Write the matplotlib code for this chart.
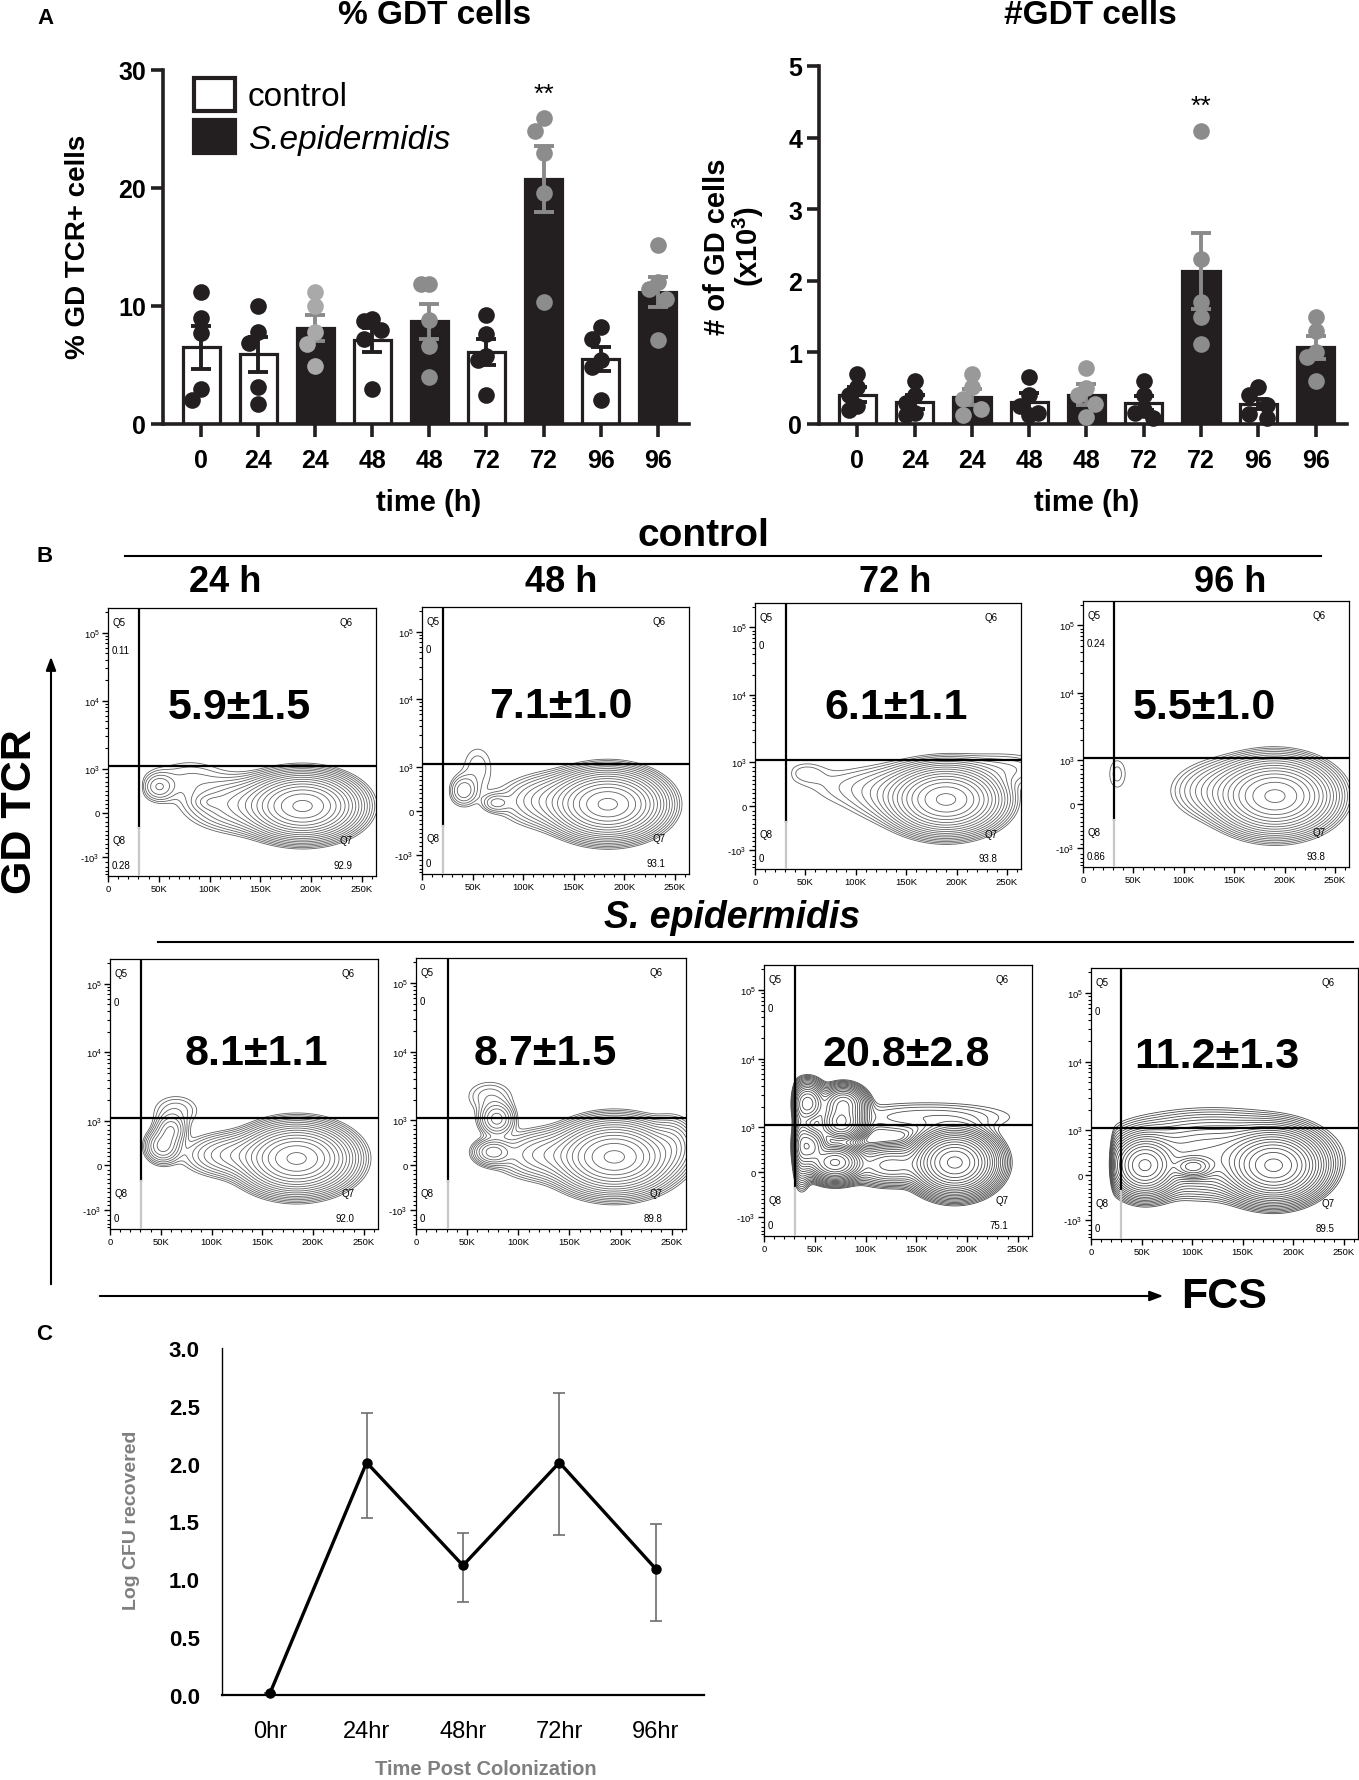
import numpy as np
import matplotlib
matplotlib.use("Agg")
import matplotlib.pyplot as plt
from matplotlib.patches import FancyArrowPatch, Rectangle
from matplotlib.lines import Line2D

plt.rcParams['font.family'] = ['Liberation Sans', 'DejaVu Sans']
plt.rcParams['mathtext.fontset'] = 'custom'
plt.rcParams['mathtext.rm'] = 'Liberation Sans'
plt.rcParams['mathtext.bf'] = 'Liberation Sans:bold'
plt.rcParams['mathtext.it'] = 'Liberation Sans:italic'

# ------------------------------------------------------------------ DATA
bar_labels = ["0", "24", "24", "48", "48", "72", "72", "96", "96"]
bar_group = ["control", "control", "sepi", "control", "sepi", "control", "sepi", "control", "sepi"]

pct_mean = [6.5, 5.9, 8.1, 7.1, 8.7, 6.1, 20.8, 5.5, 11.2]
pct_sem = [1.8, 1.5, 1.1, 1.0, 1.5, 1.1, 2.8, 1.0, 1.3]
pct_points = [
    [11.2, 9.0, 7.7, 3.0, 2.0],
    [10.0, 7.8, 6.9, 3.1, 1.7],
    [11.2, 10.0, 7.8, 6.8, 4.9],
    [8.9, 8.7, 8.0, 7.2, 3.0],
    [11.9, 11.9, 8.8, 6.6, 4.0],
    [9.2, 7.6, 5.8, 5.4, 2.5],
    [25.9, 24.8, 23.0, 19.6, 10.3],
    [8.2, 7.2, 5.4, 4.8, 2.0],
    [15.2, 12.0, 11.4, 10.6, 7.1],
]
pct_point_colors = ["#231f20", "#231f20", "#a9a9a9", "#231f20", "#8c8c8c",
                    "#231f20", "#8c8c8c", "#231f20", "#8c8c8c"]

num_mean = [0.41, 0.31, 0.38, 0.31, 0.41, 0.29, 2.14, 0.28, 1.07]
num_sem = [0.10, 0.10, 0.11, 0.12, 0.15, 0.10, 0.53, 0.07, 0.16]
num_points = [
    [0.70, 0.51, 0.40, 0.25, 0.20],
    [0.60, 0.40, 0.30, 0.15, 0.12],
    [0.70, 0.51, 0.35, 0.21, 0.12],
    [0.65, 0.40, 0.25, 0.15, 0.12],
    [0.78, 0.50, 0.40, 0.28, 0.10],
    [0.60, 0.40, 0.20, 0.16, 0.09],
    [4.09, 2.30, 1.70, 1.49, 1.12],
    [0.51, 0.40, 0.26, 0.14, 0.09],
    [1.50, 1.30, 1.00, 0.93, 0.60],
]
num_point_colors = ["#231f20", "#231f20", "#999999", "#231f20", "#999999",
                    "#231f20", "#8c8c8c", "#231f20", "#8c8c8c"]

flow_times = ["24 h", "48 h", "72 h", "96 h"]
flow_ctrl_big = ["5.9\u00b11.5", "7.1\u00b11.0", "6.1\u00b11.1", "5.5\u00b11.0"]
flow_sepi_big = ["8.1\u00b11.1", "8.7\u00b11.5", "20.8\u00b12.8", "11.2\u00b11.3"]
flow_ctrl_q5 = ["0.11", "0", "0", "0.24"]
flow_ctrl_q8 = ["0.28", "0", "0", "0.86"]
flow_ctrl_q7 = ["92.9", "93.1", "93.8", "93.8"]
flow_sepi_q5 = ["0", "0", "0", "0"]
flow_sepi_q8 = ["0", "0", "0", "0"]
flow_sepi_q7 = ["92.0", "89.8", "75.1", "89.5"]
flow_ctrl_gate_x = [31, 21, 31, 31]      # FSC gate, K
flow_sepi_gate_x = [31, 31, 31, 30]
flow_ctrl_min_fsc = [32, 24, 33, 22]     # lowest FSC of recorded events, K
flow_sepi_min_fsc = [27, 45, 30, 21]
flow_gate_y = 1100                        # GD TCR gate

# contour populations: (FSC centre K, GD-TCR display centre, FSC spread K, display spread, weight)
ctrl_24_pops = [(192, 0.10, 22, 0.19, 1.0), (140, 0.12, 30, 0.20, 0.05), (100, 0.16, 9, 0.07, 0.012),
                (50, 0.38, 9, 0.12, 0.02), (80, 0.50, 25, 0.20, 0.008)]
ctrl_48_pops = [(184, 0.10, 22, 0.20, 1.0), (135, 0.15, 28, 0.20, 0.045), (73, 0.12, 8, 0.08, 0.015),
                (41, 0.30, 8, 0.13, 0.02), (55, 0.65, 12, 0.25, 0.007)]
ctrl_72_pops = [(190, 0.10, 22, 0.20, 1.0), (155, 0.18, 30, 0.22, 0.04), (245, 0.55, 30, 0.15, 0.012),
                (50, 0.50, 14, 0.12, 0.006), (90, 0.30, 30, 0.20, 0.006)]
ctrl_96_pops = [(191, 0.12, 23, 0.22, 1.0), (150, 0.20, 28, 0.22, 0.05), (34, 0.45, 8, 0.20, 0.0065)]
sepi_24_pops = [(184, 0.10, 22, 0.20, 1.0), (125, 0.15, 25, 0.16, 0.05), (52, 0.28, 9, 0.13, 0.05),
                (60, 0.52, 8, 0.12, 0.04), (65, 0.80, 15, 0.15, 0.01)]
sepi_48_pops = [(194, 0.12, 23, 0.21, 1.0), (250, 0.30, 12, 0.20, 0.04), (130, 0.15, 25, 0.18, 0.05),
                (75, 0.19, 10, 0.10, 0.05), (79, 0.67, 9, 0.13, 0.05), (72, 1.00, 15, 0.15, 0.01)]
sepi_72_pops = [(188, 0.14, 17, 0.19, 1.0), (70, 0.14, 12, 0.12, 0.55), (45, 0.38, 8, 0.14, 0.45),
                (76, 0.72, 10, 0.12, 0.40), (43, 1.00, 8, 0.14, 0.35), (78, 0.99, 10, 0.12, 0.30),
                (160, 0.80, 55, 0.14, 0.012), (125, 0.10, 20, 0.14, 0.08), (37, 0.40, 5, 0.25, 0.18)]
sepi_96_pops = [(181, 0.14, 20, 0.21, 1.0), (53, 0.14, 14, 0.19, 0.55), (101, 0.12, 10, 0.08, 0.30),
                (120, 0.30, 48, 0.27, 0.10)]

cfu_labels = ["0hr", "24hr", "48hr", "72hr", "96hr"]
cfu_mean = [0.02, 2.01, 1.12, 2.01, 1.09]
cfu_err_low = [0.0, 0.48, 0.32, 0.63, 0.45]
cfu_err_high = [0.0, 0.43, 0.28, 0.60, 0.39]

# ------------------------------------------------------------------ FIGURE
W, H = 1359, 1781
fig = plt.figure(figsize=(W / 100, H / 100), dpi=100)
INK = "#231f20"


def px_axes(l, t, w, h):
    return fig.add_axes([l / W, 1 - (t + h) / H, w / W, h / H])


def ftext(x, y, s, **kw):
    kw.setdefault("ha", "center")
    kw.setdefault("va", "center")
    return fig.text(x / W, 1 - y / H, s, **kw)


def swarm(vals, ppx, ppy, d=16.0):
    """Prism-like scatter: centre first, then half-diameter steps left/right."""
    placed, offs = [], np.zeros(len(vals))
    cands = [0, -0.55, 0.55]
    for i in np.argsort(vals)[::-1]:
        best, best_gap = 0.0, -1.0
        for c in cands:
            xo = c * d / ppx
            gap = min([np.hypot((xo - a) * ppx, (vals[i] - b) * ppy) for a, b in placed] or [1e9])
            if gap >= 0.85 * d:
                best = xo
                break
            if gap > best_gap + 1.0:
                best, best_gap = xo, gap
        placed.append((best, vals[i]))
        offs[i] = best
    return offs


def bar_panel(box, means, sems, points, pcols, ymax, yticks):
    l, t, w, h = box
    ax = px_axes(l, t, w, h)
    x = np.arange(len(bar_labels))
    xlim = (-0.67, 8.55)
    ppx = w / (xlim[1] - xlim[0])
    ppy = h / ymax
    for i in x:
        ctrl = bar_group[i] == "control"
        ax.bar(i, means[i], width=0.65, color="white" if ctrl else INK,
               edgecolor=INK, linewidth=2.3, zorder=2)
        ecol = INK if ctrl else "#8a8a8a"
        ax.errorbar(i, means[i], yerr=sems[i], color=ecol, lw=2.8, capsize=7,
                    capthick=2.8, zorder=3)
        offs = swarm(points[i], ppx, ppy)
        ax.plot(i + offs, points[i], "o", ms=12, color=pcols[i], mec="none",
                zorder=4, clip_on=False)
    ax.set_xlim(*xlim)
    ax.set_ylim(0, ymax)
    ax.set_xticks(x)
    ax.set_xticklabels(bar_labels, fontsize=18, fontweight="bold")
    ax.set_yticks(yticks)
    ax.set_yticklabels([str(v) for v in yticks], fontsize=18, fontweight="bold")
    for s in ["top", "right"]:
        ax.spines[s].set_visible(False)
    for s in ["left", "bottom"]:
        ax.spines[s].set_linewidth(2.6)
        ax.spines[s].set_color(INK)
    ax.tick_params(axis="both", length=9, width=2.6, color=INK)
    ax.tick_params(axis="x", pad=8)
    ax.tick_params(axis="y", pad=3)
    return ax


# ---------------- panel A
ftext(45, 18, "A", fontsize=16, fontweight="bold")
axL = bar_panel((163, 71, 526, 354), pct_mean, pct_sem, pct_points, pct_point_colors, 30, [0, 10, 20, 30])
axL.text(6, 28.0, "**", ha="center", va="center", fontsize=19)
ftext(435, 15, "% GDT cells", fontsize=24, fontweight="bold")
ftext(78, 247, "% GD TCR+ cells", fontsize=20, fontweight="bold", rotation=90)
ftext(429, 503, "time (h)", fontsize=21, fontweight="bold")
# legend
fig.add_artist(Rectangle((194 / W, 1 - 112 / H), 41 / W, 33 / H, transform=fig.transFigure,
                         facecolor="white", edgecolor=INK, lw=3))
fig.add_artist(Rectangle((194 / W, 1 - 154 / H), 41 / W, 33 / H, transform=fig.transFigure,
                         facecolor=INK, edgecolor=INK, lw=3))
ftext(248, 97, "control", fontsize=24, ha="left")
ftext(248, 140, "S.epidermidis", fontsize=24, ha="left", style="italic")

axR = bar_panel((819, 67, 528, 358), num_mean, num_sem, num_points, num_point_colors, 5, [0, 1, 2, 3, 4, 5])
axR.text(6, 4.45, "**", ha="center", va="center", fontsize=19)
ftext(1090, 15, "#GDT cells", fontsize=24, fontweight="bold")
ftext(717, 247, "# of GD cells", fontsize=21, fontweight="bold", rotation=90)
ftext(748, 247, r"(x10$^{\mathbf{3}}$)", fontsize=21, fontweight="bold", rotation=90)
ftext(1087, 503, "time (h)", fontsize=21, fontweight="bold")

# ---------------- panel B
ftext(45, 557, "B", fontsize=16, fontweight="bold")
ftext(703, 536, "control", fontsize=28, fontweight="bold")
fig.add_artist(Line2D([125 / W, 1321 / W], [1 - 557 / H, 1 - 557 / H], transform=fig.transFigure,
                      color="black", lw=1.5))
for xc, s in zip([225, 561, 895, 1230], flow_times):
    ftext(xc, 583, s, fontsize=26, fontweight="bold")
ftext(732, 918, "S. epidermidis", fontsize=27, fontweight="bold", style="italic")
fig.add_artist(Line2D([158 / W, 1353 / W], [1 - 943 / H, 1 - 943 / H], transform=fig.transFigure,
                      color="black", lw=1.5))

ftext(20, 812, "GD TCR", fontsize=31, fontweight="bold", rotation=90)
fig.add_artist(FancyArrowPatch((51 / W, 1 - 1288 / H), (51 / W, 1 - 655 / H), transform=fig.transFigure,
                               arrowstyle="-|>,head_length=8,head_width=3", mutation_scale=1,
                               color="black", lw=1.5))
fig.add_artist(FancyArrowPatch((97 / W, 1 - 1297 / H), (1166 / W, 1 - 1297 / H), transform=fig.transFigure,
                               arrowstyle="-|>,head_length=8,head_width=3", mutation_scale=1,
                               color="black", lw=1.5))
ftext(1224, 1297, "FCS", fontsize=31, fontweight="bold")

LINT, CLIN = 1000.0, 0.65


def tr(y):
    y = np.asarray(y, dtype=float)
    a = np.abs(y)
    return np.where(a <= LINT, y / LINT * CLIN,
                    np.sign(y) * (CLIN + np.log10(np.maximum(a, 1e-9) / LINT)))


def flow_panel(box, pops, gate_x, min_fsc, big, big_pos, q5, q8, q7, dark=False):
    l, t, w, h = box
    ax = px_axes(l, t, w, h)
    y0, y1 = float(tr(-1900)), float(tr(2.3e5))
    xs = np.linspace(0, 264, 420)
    ts = np.linspace(y0, y1, 420)
    X, T = np.meshgrid(xs, ts)
    D = np.zeros_like(X)
    for (x0, t0, sx, st, wgt) in pops:
        D += wgt * np.exp(-0.5 * (((X - x0) / sx) ** 2 + ((T - t0) / st) ** 2))
    D *= 1.0 / (1.0 + np.exp(-(X - min_fsc) / 1.5))
    D /= D.max()
    nlev = 20 if dark else 17
    levels = 10 ** np.linspace(-2.4, -0.04, nlev)
    ax.contour(X, T, D, levels=levels, colors="#4a4a4a" if dark else "#606060",
               linewidths=0.6)
    ax.set_xlim(0, 264)
    ax.set_ylim(y0, y1)
    gy = float(tr(flow_gate_y))
    ax.plot([0, 264], [gy, gy], color="black", lw=1.6, zorder=5)
    split = float(tr(-350))
    ax.plot([gate_x, gate_x], [split, y1], color="black", lw=1.6, zorder=5)
    ax.plot([gate_x, gate_x], [y0, split], color="#c8c8c8", lw=1.6, zorder=5)
    # ticks
    ax.set_xticks([0, 50, 100, 150, 200, 250])
    ax.set_xticklabels(["0", "50K", "100K", "150K", "200K", "250K"], fontsize=6.8)
    ax.set_xticks(np.arange(10, 264, 10), minor=True)
    ax.set_yticks(tr([-1000, 0, 1000, 1e4, 1e5]))
    ax.set_yticklabels([r"-10$^3$", "0", r"10$^3$", r"10$^4$", r"10$^5$"], fontsize=6.8)
    minor = list(np.arange(-1800, -1000, 200)) + list(np.arange(-900, 1000, 100)) + \
        [m * 10 ** e for e in (3, 4) for m in range(2, 10)] + [2e5]
    ax.set_yticks(tr(minor), minor=True)
    ax.tick_params(axis="both", which="major", length=4, width=1.0, pad=2, direction="out")
    ax.tick_params(axis="both", which="minor", length=2.5, width=0.8, direction="out")
    for s in ax.spines.values():
        s.set_linewidth(0.9)
    # quadrant labels
    tx = dict(fontsize=7, transform=ax.transData, zorder=6)
    ax.text(4, float(tr(1.45e5)), "Q5", ha="left", va="center", **tx)
    ax.text(4, float(tr(0.55e5)), q5, ha="left", va="center", **tx)
    ax.text(241, float(tr(1.45e5)), "Q6", ha="right", va="center", **tx)
    ax.text(4, float(tr(-620)), "Q8", ha="left", va="center", **tx)
    ax.text(4, float(tr(-1300)), q8, ha="left", va="center", **tx)
    ax.text(241, float(tr(-620)), "Q7", ha="right", va="center", **tx)
    ax.text(241, float(tr(-1300)), q7, ha="right", va="center", **tx)
    ax.text(big_pos[0], big_pos[1], big, transform=ax.transAxes, ha="center", va="center",
            fontsize=31, fontweight="bold", zorder=7)
    return ax


ctrl_boxes = [(108, 609, 268, 268), (422, 608, 267, 267), (755, 604, 266, 266), (1083, 602, 266, 266)]
sepi_boxes = [(110, 960, 268, 270), (416, 959, 270, 271), (764, 966, 268, 271), (1091, 969, 267, 271)]
ctrl_big_pos = [(0.49, 0.63), (0.52, 0.63), (0.53, 0.61), (0.455, 0.60)]
sepi_big_pos = [(0.545, 0.65), (0.48, 0.65), (0.53, 0.67), (0.47, 0.675)]
ctrl_pops = [ctrl_24_pops, ctrl_48_pops, ctrl_72_pops, ctrl_96_pops]
sepi_pops = [sepi_24_pops, sepi_48_pops, sepi_72_pops, sepi_96_pops]

for i in range(4):
    flow_panel(ctrl_boxes[i], ctrl_pops[i], flow_ctrl_gate_x[i], flow_ctrl_min_fsc[i], flow_ctrl_big[i],
               ctrl_big_pos[i], flow_ctrl_q5[i], flow_ctrl_q8[i], flow_ctrl_q7[i])
    flow_panel(sepi_boxes[i], sepi_pops[i], flow_sepi_gate_x[i], flow_sepi_min_fsc[i], flow_sepi_big[i],
               sepi_big_pos[i], flow_sepi_q5[i], flow_sepi_q8[i], flow_sepi_q7[i], dark=(i >= 2))

# ---------------- panel C
ftext(44, 1335, "C", fontsize=16, fontweight="bold")
axC = px_axes(222, 1349, 482, 347)
xc = np.arange(len(cfu_labels))
axC.errorbar(xc, cfu_mean, yerr=[cfu_err_low, cfu_err_high], fmt="none", ecolor="#6e6e6e",
             elinewidth=1.2, capsize=4, capthick=1.2, zorder=2)
axC.plot(xc, cfu_mean, "-o", color="black", lw=2.4, ms=6.5, zorder=3, clip_on=False)
axC.set_xlim(-0.5, 4.5)
axC.set_ylim(0, 3)
axC.set_xticks(xc)
axC.set_xticklabels(cfu_labels, fontsize=17)
axC.set_yticks(np.arange(0, 3.01, 0.5))
axC.set_yticklabels(["%.1f" % v for v in np.arange(0, 3.01, 0.5)], fontsize=16, fontweight="bold")
axC.tick_params(axis="both", length=0)
axC.tick_params(axis="x", pad=18)
axC.tick_params(axis="y", pad=16)
for s in ["top", "right"]:
    axC.spines[s].set_visible(False)
axC.spines["left"].set_linewidth(1.0)
axC.spines["bottom"].set_linewidth(1.6)
ftext(486, 1770, "Time Post Colonization", fontsize=14.5, fontweight="bold", color="#7f7f7f")
ftext(131, 1520, "Log CFU recovered", fontsize=14, fontweight="bold", color="#7f7f7f", rotation=90)

fig.savefig("out.png", dpi=100)
